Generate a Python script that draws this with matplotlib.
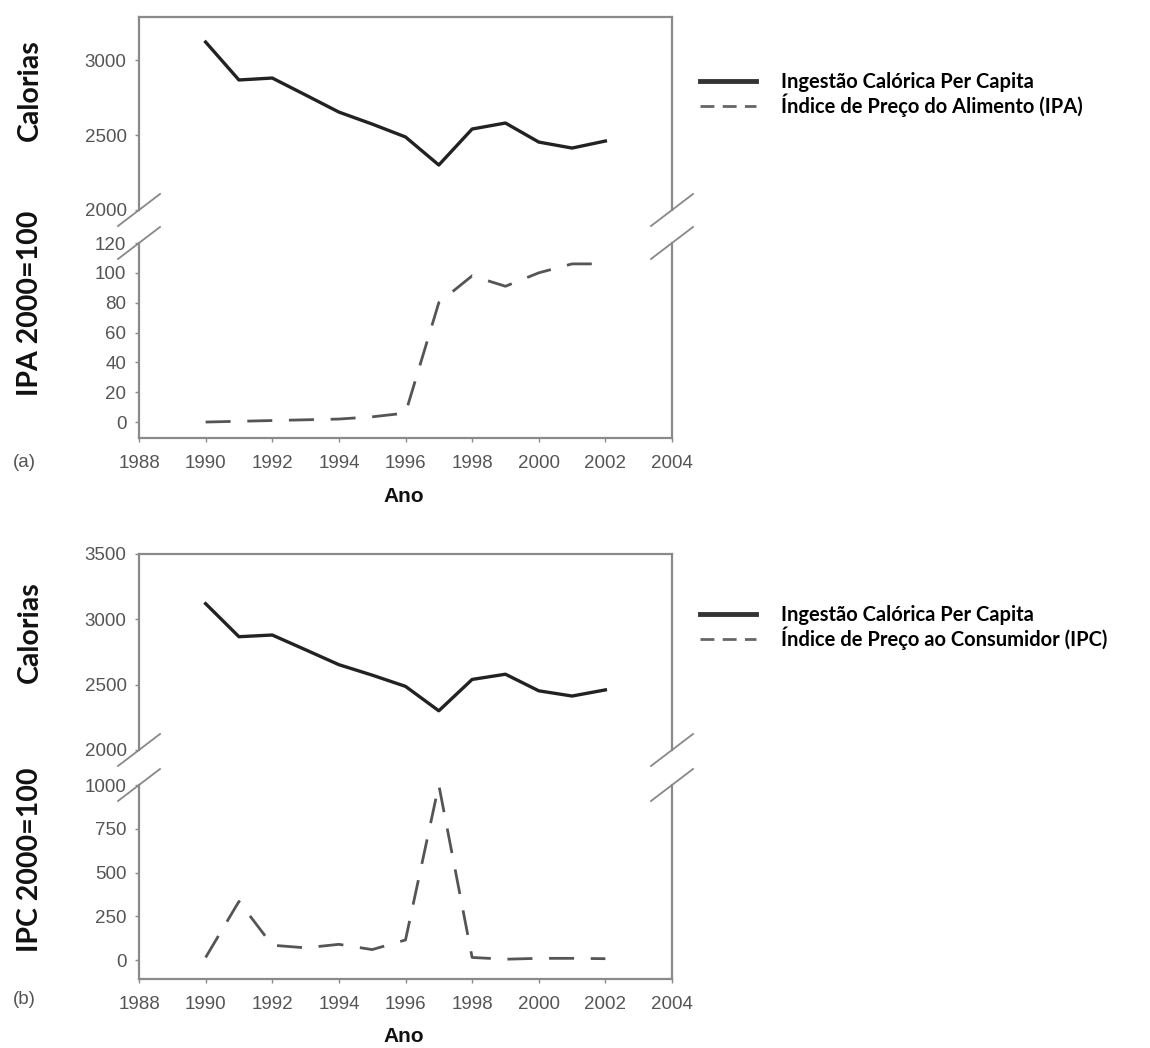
import numpy as np
import matplotlib
matplotlib.use('Agg')
import matplotlib.pyplot as plt
from matplotlib.lines import Line2D

# data
anos = [1990, 1991, 1992, 1993, 1994, 1995, 1996, 1997, 1998, 1999, 2000, 2001, 2002]
calorias = [3120, 2867, 2880, 2767, 2653, 2573, 2487, 2300, 2540, 2580, 2453, 2413, 2460]
ipa = [0, 0.5, 1, 1.5, 2, 3.5, 6, 80, 98, 91, 100, 106, 106]
ipc = [15, 335, 85, 70, 90, 60, 115, 1000, 15, 5, 10, 10, 8]

xticks = [1988, 1990, 1992, 1994, 1996, 1998, 2000, 2002, 2004]
cal_ticks_a = [2000, 2500, 3000]
ipa_ticks = [0, 20, 40, 60, 80, 100, 120]
cal_ticks_b = [2000, 2500, 3000, 3500]
ipc_ticks = [0, 250, 500, 750, 1000]

lbl_cal = 'Ingestão Calórica Per Capita'
lbl_ipa = 'Índice de Preço do Alimento (IPA)'
lbl_ipc = 'Índice de Preço ao Consumidor (IPC)'

W, H = 1150, 1048
fig = plt.figure(figsize=(W/100, H/100), dpi=100)

spine_col = '#8a8a8a'
tick_col = '#555555'
lab_font = 'Lato'
tick_font = 'Liberation Sans'


def px_box(left, top, right, bottom):
    # pixel box -> figure fraction rect
    return [left/W, 1-bottom/H, (right-left)/W, (bottom-top)/H]


def style(ax, yticks, top_part):
    ax.set_xlim(1988, 2004)
    ax.set_yticks(yticks)
    for s in ax.spines.values():
        s.set_color(spine_col)
        s.set_linewidth(1.6)
    ax.tick_params(axis='both', colors=spine_col, length=3, width=1,
                   labelcolor=tick_col, labelsize=13.5)
    ax.tick_params(axis='y', pad=6)
    ax.tick_params(axis='x', pad=9)
    if top_part:
        ax.spines['bottom'].set_visible(False)
        ax.tick_params(axis='x', bottom=False, labelbottom=False)
    else:
        ax.spines['top'].set_visible(False)
        ax.set_xticks(xticks)
    for t in ax.get_yticklabels() + ax.get_xticklabels():
        t.set_fontfamily(tick_font)


def break_marks(y_px_list, x_px_list):
    dx, dy = 21, 16
    for yc in y_px_list:
        for xc in x_px_list:
            fig.add_artist(Line2D([(xc-dx)/W, (xc+dx)/W], [1-(yc+dy)/H, 1-(yc-dy)/H],
                                  transform=fig.transFigure, color='#888888', lw=1.3))


def panel(top_box, bot_box, cal_lim, cal_ticks, idx, idx_lim, idx_ticks,
          idx_label, leg_label, leg_y, tag, tag_y, ano_y, cal_lab_y, idx_lab_y):
    ax1 = fig.add_axes(px_box(*top_box))
    ax2 = fig.add_axes(px_box(*bot_box))

    ax1.plot(anos, calorias, color='#222222', lw=2.4)
    ax1.set_ylim(*cal_lim)
    style(ax1, cal_ticks, True)

    ax2.plot(anos, idx, color='#555555', lw=2.0, dashes=(9, 6))
    ax2.set_ylim(*idx_lim)
    style(ax2, idx_ticks, False)

    # broken axis slashes
    break_marks([top_box[3], bot_box[1]], [top_box[0], top_box[2]])

    fig.text(30/W, 1-cal_lab_y/H, 'Calorias', rotation=90, ha='center', va='center',
             fontsize=20.5, fontweight='bold', family=lab_font, color='#111111')
    fig.text(30/W, 1-idx_lab_y/H, idx_label, rotation=90, ha='center', va='center',
             fontsize=20.5, fontweight='bold', family=lab_font, color='#111111')
    fig.text(404/W, 1-ano_y/H, 'Ano', ha='center', va='center',
             fontsize=15, fontweight='bold', family='Liberation Sans', color='#111111')
    fig.text(24/W, 1-tag_y/H, tag, ha='center', va='center',
             fontsize=13.5, family=tick_font, color=tick_col)

    fig.legend([Line2D([], [], color='#333333', lw=3.5),
                Line2D([], [], color='#666666', lw=2.0, dashes=(5, 3))],
               [lbl_cal, leg_label], loc='upper left',
               bbox_to_anchor=(690/W, 1-leg_y/H), frameon=False, borderpad=0,
               handlelength=2.8, handletextpad=1.2, labelspacing=0.08,
               prop={'family': lab_font, 'weight': 'bold', 'size': 14.5})


panel((139, 17, 672, 210), (139, 243, 672, 438), (2000, 3287), cal_ticks_a,
      ipa, (-10.7, 120), ipa_ticks, 'IPA 2000=100', lbl_ipa,
      62, '(a)', 463, 496, 90, 303)
panel((139, 554, 672, 750), (139, 785, 672, 979), (2000, 3500), cal_ticks_b,
      ipc, (-108, 1000), ipc_ticks, 'IPC 2000=100', lbl_ipc,
      595, '(b)', 1000, 1037, 632, 860)

fig.savefig('out.png', dpi=100)
